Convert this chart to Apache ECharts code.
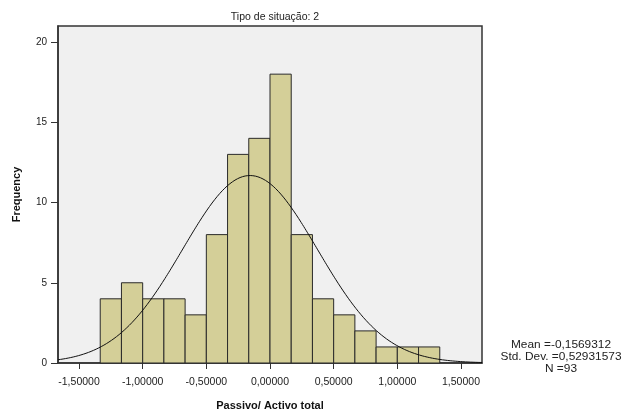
<!DOCTYPE html>
<html><head><meta charset="utf-8">
<script src="https://cdn.jsdelivr.net/npm/echarts@6/dist/echarts.min.js"></script>
<style>html,body{margin:0;padding:0;background:#fff}#c{width:630px;height:416px}</style>
</head><body><div id="c"></div>
<script>
// Histogram data
const binStarts = [-4/3,-7/6,-1,-5/6,-2/3,-1/2,-1/3,-1/6,0,1/6,1/3,1/2,2/3,5/6,1,7/6];
const binWidth = 1/6;
const counts = [4,5,4,4,3,8,13,14,18,8,4,3,2,1,1,1];
const xTicks = [-1.5,-1.0,-0.5,0,0.5,1.0,1.5];
const yTicks = [0,5,10,15,20];
const statMean = -0.1569312;
const statSD = 0.52931573;
const statN = 93;
const statLines = ['Mean =-0,1569312', 'Std. Dev. =0,52931573', 'N =93'];
const xMin = -1.665, xMax = 1.665;

const histData = binStarts.map((s,i)=>[s, s+binWidth, counts[i]]);
// fitted normal curve defined by the displayed statistics
const curve = [];
const k = statN*binWidth/(statSD*Math.sqrt(2*Math.PI));
for (let i=0;i<=333;i++){ const x = xMin + i*0.01; const z=(x-statMean)/statSD; curve.push([x, k*Math.exp(-0.5*z*z)]); }

const fmt = v => v.toFixed(5).replace('.', ',');
const font = 'Liberation Sans, Arial, sans-serif';
const chart = echarts.init(document.getElementById('c'), null, {renderer:'canvas'});
const statY = [345, 357, 369];
chart.setOption({
  animation:false,
  backgroundColor:'#ffffff',
  title:{text:'Tipo de situação: 2', left:270, top:7, textAlign:'center',
    textStyle:{fontFamily:font, fontSize:10.5, fontWeight:'normal', color:'#222'}},
  grid:{left:58, right:148, top:26, bottom:51, show:true, backgroundColor:'#f0f0f0', borderColor:'#333', borderWidth:1.5},
  xAxis:{type:'value', min:xMin, max:xMax,
    name:'Passivo/ Activo total', nameLocation:'middle', nameGap:37,
    nameTextStyle:{fontFamily:font, fontSize:11, fontWeight:'bold', color:'#111'},
    axisLine:{show:true, onZero:false, lineStyle:{color:'#333', width:1.5}},
    axisTick:{show:true, customValues:xTicks, length:6, lineStyle:{color:'#333'}},
    axisLabel:{customValues:xTicks, formatter:fmt, fontFamily:font, fontSize:10.5, color:'#222', margin:14},
    splitLine:{show:false}},
  yAxis:{type:'value', min:0, max:21,
    name:'Frequency', nameLocation:'middle', nameGap:36, nameRotate:90,
    nameTextStyle:{fontFamily:font, fontSize:11, fontWeight:'bold', color:'#111'},
    axisLine:{show:true, onZero:false, lineStyle:{color:'#333', width:1.5}},
    axisTick:{show:true, customValues:yTicks, length:7, lineStyle:{color:'#333'}},
    axisLabel:{customValues:yTicks, fontFamily:font, fontSize:10, color:'#222', margin:11},
    splitLine:{show:false}},
  series:[
    {type:'custom', data:histData, encode:{x:[0,1], y:2},
      renderItem:function(params, api){
        const p0 = api.coord([api.value(0), 0]);
        const p1 = api.coord([api.value(1), api.value(2)]);
        return {type:'rect', shape:{x:p0[0], y:p1[1], width:p1[0]-p0[0], height:p0[1]-p1[1]},
          style:{fill:'#d4cf98', stroke:'#2a2a2a', lineWidth:1}};
      }, z:2},
    {type:'line', data:curve, showSymbol:false, smooth:false, z:3,
      lineStyle:{color:'#111', width:1}}
  ],
  graphic: statLines.map((t,i)=>({type:'text', x:561, y:statY[i], scaleX:1.08,
    style:{text:t, align:'center', verticalAlign:'middle', fontFamily:font, fontSize:11, fill:'#222'}}))
});
</script></body></html>
